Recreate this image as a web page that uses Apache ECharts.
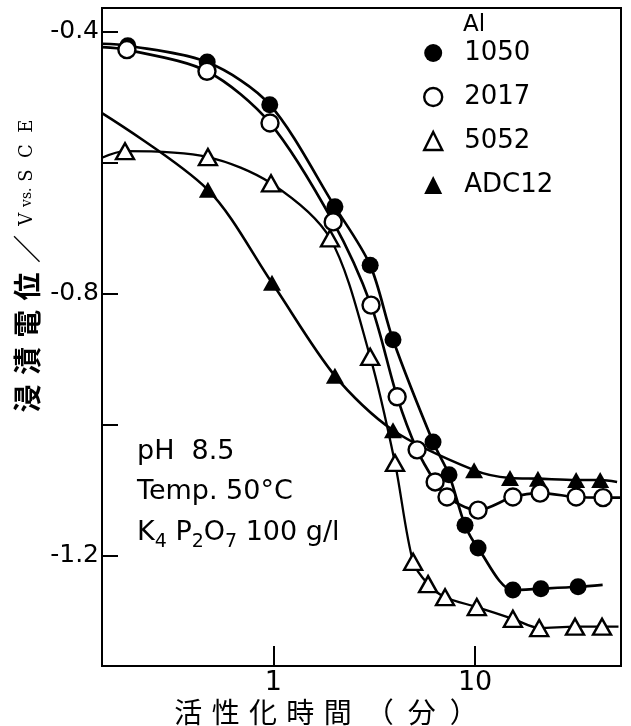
<!DOCTYPE html>
<html><head><meta charset="utf-8">
<script src="https://cdn.jsdelivr.net/npm/echarts@6/dist/echarts.min.js"></script>
<style>html,body{margin:0;padding:0;background:#fff}#c{width:631px;height:726px}</style>
</head><body><div id="c"></div>
<script>
// Series names (legend order)
const seriesNames = ['1050', '2017', '5052', 'ADC12'];

// Time (min) and potential (V vs. SCE). First and last entries of each array are
// the ends of the drawn curve (no marker); the others are measured points.
const t1050 = [0.1415, 0.19, 0.47, 0.96, 2.02, 3.02, 3.92, 6.19, 7.43, 8.92, 10.35, 15.4, 21.2, 32.4, 42.9];
const v1050 = [-0.418, -0.421, -0.446, -0.511, -0.667, -0.756, -0.870, -1.026, -1.076, -1.153, -1.188, -1.252, -1.250, -1.247, -1.244];

const t2017 = [0.1415, 0.188, 0.469, 0.963, 1.98, 3.05, 4.11, 5.16, 6.34, 7.26, 10.35, 15.4, 21.0, 31.7, 43.1, 52.9];
const v2017 = [-0.423, -0.427, -0.460, -0.539, -0.690, -0.817, -0.957, -1.038, -1.087, -1.110, -1.130, -1.110, -1.104, -1.110, -1.111, -1.111];

const t5052 = [0.1415, 0.184, 0.474, 0.974, 1.91, 3.02, 4.01, 4.93, 5.85, 7.10, 10.2, 15.4, 20.8, 31.3, 42.6, 51.4];
const v5052 = [-0.592, -0.582, -0.591, -0.631, -0.715, -0.896, -1.058, -1.209, -1.243, -1.263, -1.278, -1.296, -1.310, -1.308, -1.308, -1.308];

const tADC12 = [0.1415, 0.474, 0.985, 2.02, 3.92, 9.89, 14.9, 20.5, 31.7, 41.7, 50.6];
const vADC12 = [-0.524, -0.641, -0.783, -0.925, -1.008, -1.069, -1.081, -1.082, -1.084, -1.084, -1.087];

// Axis tick labels
const xTickLabels = ['1', '10'];
const yTickLabels = ['-0.4', '-0.8', '-1.2'];

const FONT = 'DejaVu Sans';
const openStyle = {color: '#fff', borderColor: '#000', borderWidth: 2.4};
const fillStyle = {color: '#000', borderColor: '#000', borderWidth: 0};

function mkSeries(name, t, v, symbol, style, lw) {
  return {
    name: name, type: 'line',
    data: t.map((x, i) => {
      const item = {value: [x, v[i]]};
      if (i === 0 || i === t.length - 1) item.symbol = 'none';
      return item;
    }),
    smooth: 0.3,
    symbol: symbol,
    symbolSize: symbol === 'circle' ? 17 : [18, 16],
    showSymbol: true,
    itemStyle: style,
    lineStyle: {color: '#000', width: lw},
    emphasis: {disabled: true},
    animation: false
  };
}

const chart = echarts.init(document.getElementById('c'), null, {renderer: 'canvas'});
chart.setOption({
  backgroundColor: '#fff',
  animation: false,
  grid: {left: 102, right: 10, top: 8, bottom: 60, show: true, borderColor: '#000', borderWidth: 2},
  xAxis: {
    type: 'log', logBase: 10, min: 0.1415, max: 52.9,
    axisLine: {show: true, lineStyle: {color: '#000', width: 2}},
    axisTick: {show: true, inside: true, length: 20, lineStyle: {color: '#000', width: 2}},
    axisLabel: {
      margin: 3, color: '#000', fontFamily: FONT, fontSize: 27,
      showMinLabel: false, showMaxLabel: false,
      formatter: v => xTickLabels.find(l => Math.abs(parseFloat(l) - v) < 1e-6) || ''
    },
    splitLine: {show: false}, minorTick: {show: false}
  },
  yAxis: {
    type: 'value', min: -1.368, max: -0.3634, splitNumber: 5,
    axisLine: {show: true, lineStyle: {color: '#000', width: 2}},
    axisTick: {show: true, inside: true, length: 16, lineStyle: {color: '#000', width: 2}},
    axisLabel: {
      margin: 3, color: '#000', fontFamily: FONT, fontSize: 25,
      formatter: v => yTickLabels.find(l => Math.abs(parseFloat(l) - v) < 1e-6) || ''
    },
    splitLine: {show: false}
  },
  legend: {
    data: [
      {name: seriesNames[0], icon: 'circle', itemStyle: fillStyle},
      {name: seriesNames[1], icon: 'circle', itemStyle: openStyle},
      {name: seriesNames[2], icon: 'triangle', itemStyle: openStyle},
      {name: seriesNames[3], icon: 'triangle', itemStyle: fillStyle}
    ],
    orient: 'vertical', left: 423, top: 40, padding: 0,
    itemWidth: 18, itemHeight: 18, itemGap: 18, selectedMode: false,
    textStyle: {fontFamily: FONT, fontSize: 26, color: '#000', lineHeight: 25, padding: [0, 0, 0, 17]}
  },
  series: [
    mkSeries(seriesNames[3], tADC12, vADC12, 'triangle', fillStyle, 2.6),
    mkSeries(seriesNames[2], t5052, v5052, 'triangle', openStyle, 2.3),
    mkSeries(seriesNames[0], t1050, v1050, 'circle', fillStyle, 2.7),
    mkSeries(seriesNames[1], t2017, v2017, 'circle', openStyle, 2.7)
  ],
  graphic: [
    {type: 'text', x: 474, y: 25, style: {text: 'Al', font: '23px "DejaVu Sans"', fill: '#000', align: 'center', verticalAlign: 'middle'}},
    {type: 'text', x: 137, y: 452, style: {text: 'pH  8.5', font: '27px "DejaVu Sans"', fill: '#000', align: 'left', verticalAlign: 'middle'}},
    {type: 'text', x: 137, y: 492, style: {text: 'Temp. 50°C', font: '27px "DejaVu Sans"', fill: '#000', align: 'left', verticalAlign: 'middle'}},
    {type: 'text', x: 137, y: 533, style: {
      text: '{m|K}{s|4}{m| P}{s|2}{m|O}{s|7}{m| 100 g/l}',
      align: 'left', verticalAlign: 'middle', fill: '#000',
      rich: {
        m: {fontFamily: FONT, fontSize: 27, lineHeight: 38, fill: '#000'},
        s: {fontFamily: FONT, fontSize: 19, lineHeight: 19, verticalAlign: 'bottom', fill: '#000'}
      }
    }},
    {type: 'text', x: 326, y: 712, style: {
      text: '活\u2004性\u2004化\u2004時\u2004間\u2002（\u2002分\u2002）',
      font: '28px "Noto Sans CJK JP"', fill: '#000', align: 'center', verticalAlign: 'middle'
    }},
    {type: 'text', x: 27, y: 266, rotation: Math.PI / 2, style: {
      text: '{j|浸\u2004漬\u2004電\u2004位\u2004／\u2004}{v|V }{w|vs.}{v| S  C  E}',
      align: 'center', verticalAlign: 'middle', fill: '#000',
      rich: {
        j: {fontFamily: 'Noto Sans CJK JP', fontSize: 28, fontWeight: 'bold', fill: '#000'},
        v: {fontFamily: 'DejaVu Serif', fontSize: 18, fill: '#000'},
        w: {fontFamily: 'DejaVu Serif', fontSize: 14, fill: '#000'}
      }
    }}
  ]
});
</script>
</body></html>
